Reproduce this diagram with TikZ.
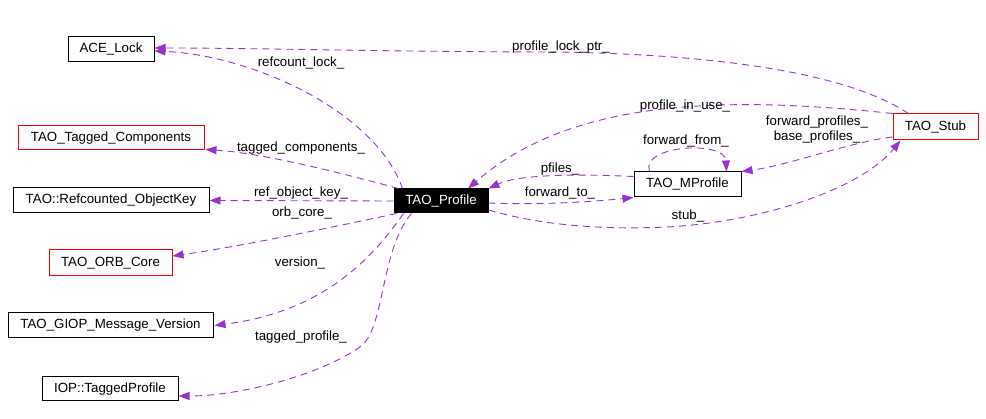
\documentclass[tikz,border=0pt]{standalone}
\usepackage{fontspec}
\setmainfont{Liberation Sans}
\usetikzlibrary{arrows.meta,calc}
\definecolor{edgec}{RGB}{154,50,205}
\begin{document}
\begin{tikzpicture}[x=1pt,y=-1pt,
  font=\fontsize{13.3}{15}\selectfont,
  box/.style={draw=black,line width=1pt,inner sep=0pt,minimum height=25pt,align=center},
  redbox/.style={box,draw=red},
  mainbox/.style={box,fill=black,text=white},
  lbl/.style={inner sep=0pt,align=center},
  use/.style={draw=edgec,line width=0.9pt,dash pattern=on 7pt off 5pt,
    -{Triangle[length=11pt,width=8pt,fill=edgec]}}]
\useasboundingbox (0,0) rectangle (986,419);
% nodes
\node[box,minimum width=86pt] (lock) at (111,49.5) {ACE\_Lock};
\node[redbox,minimum width=186pt,minimum height=24pt] (tc) at (111,138) {TAO\_Tagged\_Components};
\node[box,minimum width=196pt] (rok) at (111,200.5) {TAO::Refcounted\_ObjectKey};
\node[redbox,minimum width=123pt,minimum height=26pt] (orb) at (110.5,263) {TAO\_ORB\_Core};
\node[box,minimum width=205pt] (giop) at (110.5,325.5) {TAO\_GIOP\_Message\_Version};
\node[box,minimum width=136pt,minimum height=24pt] (itp) at (110,389) {IOP::TaggedProfile};
\node[mainbox,minimum width=94pt,minimum height=24pt] (prof) at (441,201) {TAO\_Profile};
\node[box,minimum width=107pt] (mp) at (687.5,184.5) {TAO\_MProfile};
\node[redbox,minimum width=85pt,minimum height=26pt] (stub) at (935.5,127) {TAO\_Stub};
% edges
\draw[use] ($(stub.north)+(-27,0)$) .. controls (850,75) and (730,55) .. (560,52)
  .. controls (400,52) and (260,48) .. ($(lock.east)+(0,-1.5)$);
\draw[use] ($(prof.north west)+(9,0)$) .. controls (375,110) and (250,55) .. ($(lock.east)+(0,1.5)$);
\draw[use] ($(prof.north west)+(5,0)$) .. controls (330,170) and (260,153) .. ($(tc.south east)+(1,-1)$);
\draw[use] (prof.west) -- (rok.east);
\draw[use] ($(prof.south west)+(3,0)$) .. controls (320,230) and (230,248) .. ($(orb.east)+(0,-7)$);
\draw[use] ($(prof.south west)+(10,0)$) .. controls (370,262) and (320,312) .. ($(giop.east)+(1,0)$);
\draw[use] ($(prof.south west)+(18,0)$) .. controls (380,250) and (385,330) .. (360,347)
  .. controls (320,375) and (240,396) .. ($(itp.east)+(0,7)$);
\draw[use] (stub.north west) .. controls (720,95) and (570,100) .. ($(prof.north)+(27,0)$);
\draw[use] ($(mp.west)+(0,-8)$) .. controls (580,174) and (520,174) .. (prof.north east);
\draw[use] ($(prof.east)+(0,2)$) .. controls (540,205) and (590,202) .. (mp.south west);
\draw[use] ($(mp.north west)+(16,0)$) .. controls (640,145) and (725,140) .. ($(mp.north west)+(93,0)$);
\draw[use] ($(stub.west)+(0,10)$) .. controls (850,142) and (790,165) .. (mp.north east);
\draw[use] ($(prof.east)+(0,9)$) .. controls (540,225) and (600,230) .. (667,227)
  .. controls (760,222) and (860,190) .. ($(stub.south west)+(8,0)$);
% labels
\node[lbl] (l1) at (561,47) {profile\_lock\_ptr\_};
\node[lbl] (l2) at (301,63) {refcount\_lock\_};
\node[lbl] (l3) at (301,148) {tagged\_components\_};
\node[lbl] (l4) at (301,193) {ref\_object\_key\_};
\node[lbl] (l5) at (302,213) {orb\_core\_};
\node[lbl] (l6) at (300,263) {version\_};
\node[lbl] (l7) at (301,337) {tagged\_profile\_};
\node[lbl] (l8) at (685,106) {profile\_in\_use\_};
\node[lbl] (l9) at (560,169) {pfiles\_};
\node[lbl] (l10) at (560,193) {forward\_to\_};
\node[lbl] (l11) at (688,216) {stub\_};
\node[lbl] (l12) at (686,141) {forward\_from\_};
\node[lbl] (l13) at (817,130) {forward\_profiles\_\\base\_profiles\_};
\end{tikzpicture}
\end{document}
